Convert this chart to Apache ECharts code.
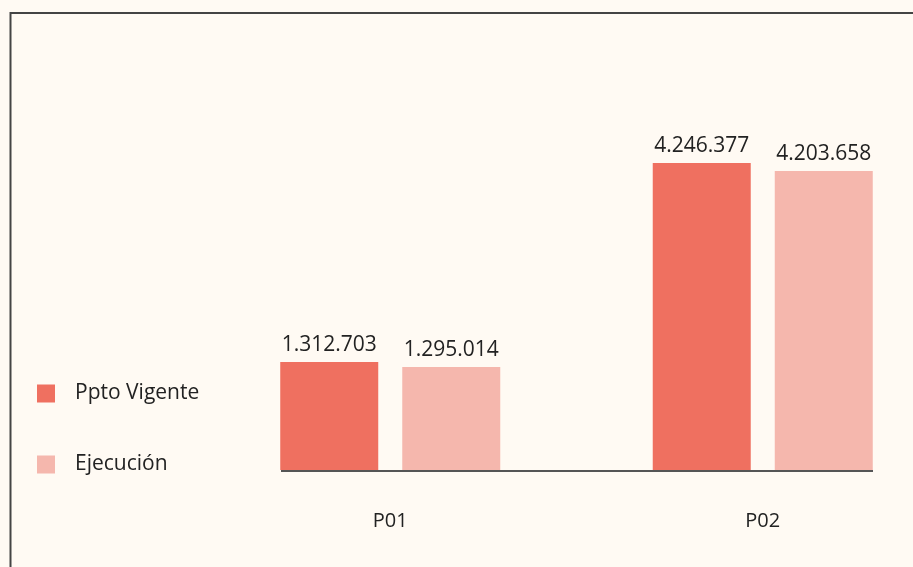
<!DOCTYPE html>
<html>
<head>
<meta charset="utf-8">
<script src="https://cdn.jsdelivr.net/npm/echarts@6/dist/echarts.min.js"></script>
<style>
    html, body {margin: 0; padding: 0; background: #fffaf3;}
    #myChart {width: 913px; height: 567px;}
</style>
</head>
<body>
<div id="myChart"></div>
<script>
var categories = ['P01', 'P02'];
var seriesNames = ['Ppto Vigente', 'Ejecución'];
var pptoVigente = [1312703, 4246377];
var ejecucion = [1295014, 4203658];

// separador de miles con punto
function formatNum(v) {
    return String(v).replace(/\B(?=(\d{3})+(?!\d))/g, '.');
}

var myChart = echarts.init(document.getElementById('myChart'));

var labelStyle = {
    show: true,
    position: 'top',
    distance: 6,
    fontFamily: 'Open Sans',
    fontSize: 21,
    color: '#222',
    formatter: function (p) {
        return formatNum(p.value);
    }
};

var option = {
    backgroundColor: '#fffaf3',
    animation: false,
    color: ['#ef7060', '#f5b7ad'],
    textStyle: {fontFamily: 'Open Sans'},
    legend: {
        orient: 'vertical',
        left: 37,
        top: 383,
        padding: 0,
        itemWidth: 18,
        itemHeight: 18,
        itemGap: 50,
        icon: 'rect',
        textStyle: {fontSize: 21, color: '#222', lineHeight: 20, padding: [0, 0, 0, 15]},
        data: seriesNames
    },
    grid: {
        left: 204,
        width: 745,
        top: 100,
        height: 370,
        outerBoundsMode: 'none'
    },
    xAxis: {
        type: 'category',
        data: categories,
        axisLine: {show: false},
        axisTick: {show: false},
        axisLabel: {margin: 41, fontSize: 20, color: '#222', fontFamily: 'Open Sans'}
    },
    yAxis: [
        {
            type: 'log',
            logBase: 10,
            min: 694000,
            max: 6158000,
            show: false,
            splitLine: {show: false}
        },
        {
            type: 'log',
            logBase: 10,
            min: 697400,
            max: 6440000,
            show: false,
            splitLine: {show: false}
        }
    ],
    graphic: [
        {
            type: 'rect',
            z: -1,
            shape: {x: 10.5, y: 13, width: 1200, height: 1200},
            style: {fill: null, stroke: '#444', lineWidth: 2}
        },
        {
            type: 'line',
            z: 10,
            shape: {x1: 281, y1: 471, x2: 873, y2: 471},
            style: {stroke: '#555', lineWidth: 2}
        }
    ],
    series: [
        {
            name: seriesNames[0],
            type: 'bar',
            clip: true,
            yAxisIndex: 0,
            barWidth: 98,
            barGap: '24.5%',
            label: labelStyle,
            data: pptoVigente
        },
        {
            name: seriesNames[1],
            type: 'bar',
            clip: true,
            yAxisIndex: 1,
            barWidth: 98,
            barGap: '24.5%',
            label: labelStyle,
            data: ejecucion
        }
    ]
};

myChart.setOption(option);
</script>
</body>
</html>
